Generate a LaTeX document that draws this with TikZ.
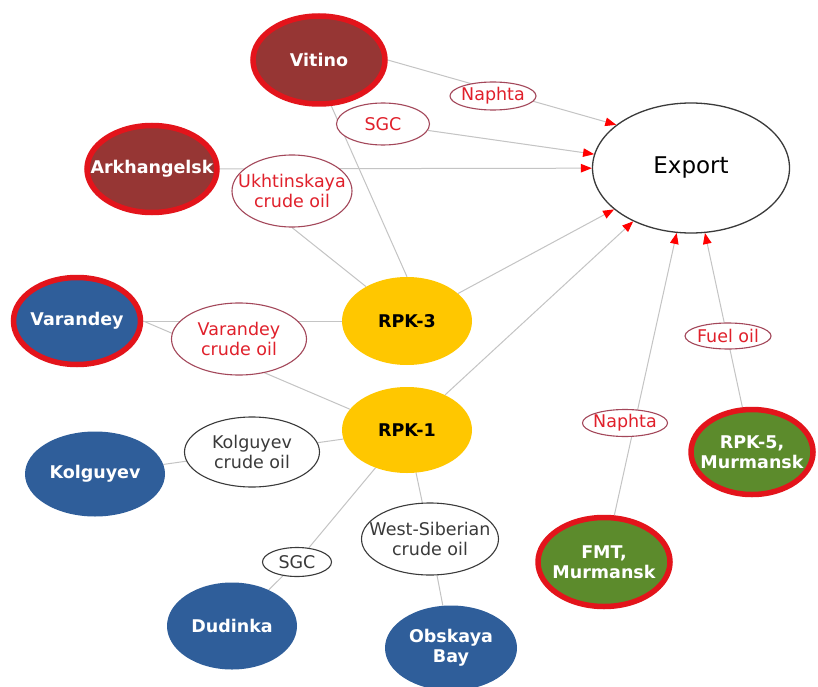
\documentclass[tikz,border=0pt]{standalone}
\usepackage{fontspec}
\setmainfont{DejaVu Sans}
\usetikzlibrary{shapes.geometric,arrows.meta,backgrounds}

\definecolor{rimred}{HTML}{E3141B}
\definecolor{portred}{HTML}{963634}
\definecolor{seablue}{HTML}{2F5E9A}
\definecolor{plantyellow}{HTML}{FFC700}
\definecolor{murgreen}{HTML}{5C8B2C}
\definecolor{linkgray}{HTML}{C4C4C4}
\definecolor{tagrim}{HTML}{A3475A}
\definecolor{tagred}{HTML}{E0202B}
\definecolor{inkgray}{HTML}{3A3A3A}

\begin{document}
\begin{tikzpicture}[x=1pt,y=-1pt,
  blob/.style={ellipse, inner sep=0pt},
  txt/.style={align=center, inner sep=0pt, font=\fontsize{17.5}{20}\selectfont\bfseries},
  whitetxt/.style={txt, text=white},
  blacktxt/.style={txt, text=black},
  port/.style={blob, fill=portred, draw=rimred, line width=5.5pt},
  sea/.style={blob, fill=seablue},
  searim/.style={blob, fill=seablue, draw=rimred, line width=5.5pt},
  plant/.style={blob, fill=plantyellow},
  murm/.style={blob, fill=murgreen, draw=rimred, line width=5.5pt},
  tag/.style={blob, fill=white, draw=tagrim, line width=1.1pt},
  darktag/.style={blob, fill=white, draw=inkgray, line width=1.1pt},
  tagtxt/.style={align=center, inner sep=0pt, text=tagred, font=\fontsize{17.5}{20}\selectfont},
  darktagtxt/.style={align=center, inner sep=0pt, text=inkgray, font=\fontsize{17.5}{20}\selectfont},
  link/.style={draw=linkgray, line width=1pt},
  tip/.style={-{Triangle[length=11pt,width=8.5pt,color=red]}}
]
\useasboundingbox (0,0) rectangle (818,687);

% terminals and plants
\node[port, minimum width=132pt, minimum height=88pt, label={[whitetxt]center:Vitino}] (vit) at (319,60) {};
\node[port, minimum width=130pt, minimum height=87pt, label={[whitetxt]center:Arkhangelsk}] (ark) at (152,169) {};
\node[searim, minimum width=127pt, minimum height=87pt, label={[whitetxt]center:Varandey}] (var) at (77,321) {};
\node[sea, minimum width=140pt, minimum height=85pt, label={[whitetxt]center:Kolguyev}] (kol) at (95,474) {};
\node[sea, minimum width=130pt, minimum height=87pt, label={[whitetxt]center:Dudinka}] (dud) at (232,626) {};
\node[sea, minimum width=132pt, minimum height=85pt, label={[whitetxt]center:{Obskaya\\Bay}}] (obs) at (451,648) {};
\node[plant, minimum width=130pt, minimum height=88pt, label={[blacktxt]center:RPK-3}] (rpk3) at (407,321) {};
\node[plant, minimum width=130pt, minimum height=86pt, label={[blacktxt]center:RPK-1}] (rpk1) at (407,430) {};
\node[blob, fill=white, draw=inkgray, line width=1.3pt, minimum width=197pt, minimum height=130pt,
      label={[inner sep=0pt, font=\fontsize{23}{26}\selectfont]center:Export}] (exp) at (691,168) {};
\node[murm, minimum width=132pt, minimum height=89pt, label={[whitetxt]center:{FMT,\\Murmansk}}] (fmt) at (604,562) {};
\node[murm, minimum width=122pt, minimum height=85pt, label={[whitetxt]center:{RPK-5,\\Murmansk}}] (rpk5) at (752,452) {};

% cargo labels
\node[tag, minimum width=86pt, minimum height=28pt, label={[tagtxt]center:Naphta}] (n1) at (493,96) {};
\node[tag, minimum width=93pt, minimum height=42pt, label={[tagtxt]center:SGC}] (sgc1) at (383,124) {};
\node[tag, minimum width=120pt, minimum height=72pt, label={[tagtxt]center:{Ukhtinskaya\\crude oil}}] (ukh) at (292,191) {};
\node[tag, minimum width=135pt, minimum height=72pt, label={[tagtxt]center:{Varandey\\crude oil}}] (varc) at (239,339) {};
\node[darktag, minimum width=135pt, minimum height=70pt, label={[darktagtxt]center:{Kolguyev\\crude oil}}] (kolc) at (252,452) {};
\node[darktag, minimum width=69pt, minimum height=29pt, label={[darktagtxt]center:SGC}] (sgc2) at (297,562) {};
\node[darktag, minimum width=137pt, minimum height=72pt, label={[darktagtxt]center:{West-Siberian\\crude oil}}] (ws) at (430,539) {};
\node[tag, minimum width=86pt, minimum height=26pt, label={[tagtxt]center:Fuel oil}] (fuel) at (728,336) {};
\node[tag, minimum width=85pt, minimum height=27pt, label={[tagtxt]center:Naphta}] (n2) at (625,423) {};

% connectors
\begin{scope}[on background layer]
\fill[white] (0,0) rectangle (818,687);
\begin{scope}[link]
\draw[tip] (vit.east) -- (exp.150);
\draw (vit.-75) -- (rpk3.north);
\draw[tip] (sgc1) -- (exp);
\draw[tip] (ark) -- (exp);
\draw (ukh.south) -- (rpk3.140);
\draw[tip] (rpk3) -- (exp);
\draw[tip] (rpk1) -- (exp);
\draw (var) -- (rpk3);
\draw (var.east) -- (rpk1.160);
\draw (kol) -- (kolc);
\draw (kolc) -- (rpk1);
\draw (rpk1) -- (sgc2);
\draw (sgc2) -- (dud);
\draw (rpk1) -- (ws);
\draw (ws) -- (obs);
\draw[tip] (fmt) -- (exp);
\draw[tip] (rpk5) -- (exp);
\end{scope}
\end{scope}
\end{tikzpicture}
\end{document}
